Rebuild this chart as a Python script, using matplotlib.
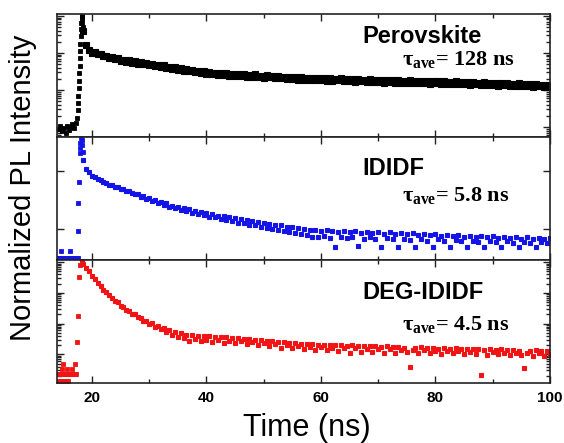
import numpy as np
import matplotlib
matplotlib.use("Agg")
import matplotlib.pyplot as plt

plt.rcParams['font.family'] = ['Liberation Sans', 'DejaVu Sans']
plt.rcParams['mathtext.fontset'] = 'custom'
plt.rcParams['mathtext.rm'] = 'Liberation Serif:bold'
plt.rcParams['mathtext.it'] = 'Liberation Serif:bold'
plt.rcParams['mathtext.bf'] = 'Liberation Serif:bold'

# time channels of the decay tail (ns)
t_tail = np.arange(18.5, 100.01, 0.5)

# ---- Perovskite (log10 of normalized PL) ----
perov_t0 = [14.2, 14.5, 14.8, 15.1, 15.4, 15.7, 16.0, 16.3, 16.6, 16.9, 17.2,
            17.45, 17.55, 17.6, 17.65, 17.7, 17.75, 17.8, 17.85, 17.9, 17.95,
            18.0, 18.05, 18.1, 18.15, 18.2, 18.25, 18.3, 18.35, 18.4]
perov_y0 = [-3.05, -2.98, -3.10, -3.02, -3.15, -2.97, -3.08, -3.00, -2.93, -3.04, -2.88,
            -2.75, -2.55, -2.35, -2.15, -1.95, -1.75, -1.55, -1.35, -1.15, -0.95,
            -0.75, -0.55, -0.35, -0.18, -0.02, 0.00, -0.08, -0.20, -0.30]
perov_tail = [
    -0.42, -0.80, -0.91, -0.99, -0.98, -1.04, -1.03, -1.09, -1.08, -1.14,
    -1.12, -1.17, -1.15, -1.21, -1.19, -1.24, -1.20, -1.26, -1.23, -1.29,
    -1.25, -1.31, -1.27, -1.33, -1.29, -1.36, -1.32, -1.38, -1.34, -1.41,
    -1.37, -1.44, -1.39, -1.46, -1.42, -1.48, -1.44, -1.50, -1.46, -1.52,
    -1.48, -1.55, -1.50, -1.56, -1.51, -1.57, -1.53, -1.59, -1.54, -1.60,
    -1.55, -1.61, -1.57, -1.62, -1.56, -1.63, -1.58, -1.64, -1.59, -1.65,
    -1.58, -1.66, -1.61, -1.67, -1.60, -1.66, -1.62, -1.68, -1.63, -1.69,
    -1.64, -1.70, -1.64, -1.71, -1.65, -1.72, -1.66, -1.72, -1.67, -1.74,
    -1.67, -1.73, -1.68, -1.74, -1.69, -1.75, -1.68, -1.76, -1.70, -1.74,
    -1.69, -1.77, -1.71, -1.76, -1.70, -1.78, -1.71, -1.77, -1.72, -1.78,
    -1.71, -1.79, -1.73, -1.78, -1.72, -1.80, -1.73, -1.79, -1.74, -1.80,
    -1.73, -1.81, -1.75, -1.80, -1.74, -1.82, -1.75, -1.81, -1.76, -1.82,
    -1.75, -1.83, -1.77, -1.82, -1.76, -1.84, -1.77, -1.83, -1.78, -1.84,
    -1.77, -1.85, -1.79, -1.84, -1.78, -1.86, -1.79, -1.85, -1.80, -1.86,
    -1.79, -1.87, -1.81, -1.86, -1.80, -1.88, -1.82, -1.87, -1.81, -1.89,
    -1.83, -1.88, -1.82, -1.90, -1.84, -1.89, -1.83, -1.91, -1.85, -1.90,
    -1.86, -1.93, -1.87, -1.92]

# ---- IDIDF ----
ididf_t0 = [14.0, 14.2, 14.4, 14.6, 14.8, 15.0, 15.2, 15.4, 15.6, 15.8, 16.0,
            16.2, 16.4, 16.6, 16.8, 17.0, 17.2, 17.4, 17.6, 14.6, 16.2,
            17.6, 17.65, 17.7, 17.9, 17.95, 18.0, 18.1, 18.2, 18.3, 18.4]
ididf_y0 = [-4.0, -4.0, -4.0, -4.0, -4.0, -4.0, -4.0, -4.0, -4.0, -4.0, -4.0,
            -4.0, -4.0, -4.0, -4.0, -4.0, -4.0, -4.0, -4.0, -3.76, -3.76,
            -3.07, -2.10, -1.38, -0.38, -0.20, -0.05, 0.12, 0.08, -0.12, -0.35]
ididf_tail = [
    -0.62, -0.95, -1.04, -1.17, -1.21, -1.29, -1.31, -1.39, -1.40, -1.47,
    -1.48, -1.55, -1.54, -1.62, -1.63, -1.70, -1.69, -1.77, -1.78, -1.80,
    -1.89, -1.87, -1.95, -1.94, -2.03, -2.00, -2.09, -2.07, -2.16, -2.12,
    -2.24, -2.20, -2.29, -2.24, -2.35, -2.29, -2.38, -2.32, -2.44, -2.37,
    -2.50, -2.41, -2.53, -2.46, -2.58, -2.49, -2.60, -2.54, -2.66, -2.56,
    -2.70, -2.59, -2.73, -2.62, -2.78, -2.66, -2.81, -2.70, -2.86, -2.72,
    -2.88, -2.76, -2.93, -2.79, -2.95, -2.82, -3.01, -2.85, -3.05, -2.88,
    -3.08, -2.92, -3.12, -2.94, -3.15, -2.97, -3.19, -3.00, -3.22, -3.02,
    -3.26, -3.05, -3.28, -3.07, -3.25, -3.04, -3.30, -3.08, -3.62, -3.10,
    -3.27, -3.06, -3.32, -3.12, -3.29, -3.08, -3.60, -3.14, -3.33, -3.10,
    -3.28, -3.15, -3.35, -3.11, -3.62, -3.16, -3.30, -3.12, -3.36, -3.18,
    -3.62, -3.14, -3.33, -3.19, -3.38, -3.15, -3.62, -3.21, -3.34, -3.17,
    -3.40, -3.22, -3.62, -3.18, -3.36, -3.24, -3.41, -3.20, -3.62, -3.25,
    -3.38, -3.21, -3.43, -3.27, -3.62, -3.23, -3.40, -3.28, -3.44, -3.24,
    -3.62, -3.29, -3.41, -3.25, -3.46, -3.31, -3.62, -3.27, -3.43, -3.32,
    -3.47, -3.28, -3.62, -3.33, -3.44, -3.29, -3.48, -3.35, -3.62, -3.30,
    -3.45, -3.36, -3.50, -3.32]

# ---- DEG-IDIDF ----
deg_t0 = [14.0, 14.2, 14.4, 14.6, 14.8, 15.0, 15.2, 15.4, 15.6, 15.8, 16.0,
          16.2, 16.4, 16.6, 16.8, 17.0, 17.2, 14.2, 14.6, 15.0, 15.4, 15.8,
          15.0, 17.0, 14.7, 15.6, 16.5,
          17.4, 17.6, 17.8, 18.0, 18.2, 18.3]
deg_y0 = [-3.65, -3.65, -3.65, -3.65, -3.65, -3.65, -3.65, -3.65, -3.65, -3.65, -3.65,
          -3.65, -3.65, -3.65, -3.65, -3.65, -3.65, -3.88, -3.88, -3.88, -3.88, -3.88,
          -3.30, -3.30, -3.49, -3.49, -3.49,
          -2.60, -1.74, -0.49, -0.08, 0.02, 0.00]
deg_tail = [
    -0.06, -0.20, -0.30, -0.45, -0.55, -0.68, -0.77, -0.89, -0.97, -1.08,
    -1.15, -1.25, -1.31, -1.41, -1.46, -1.55, -1.58, -1.67, -1.70, -1.79,
    -1.80, -1.91, -1.92, -2.01, -1.99, -2.10, -2.07, -2.19, -2.15, -2.27,
    -2.22, -2.36, -2.28, -2.42, -2.31, -2.47, -2.36, -2.55, -2.38, -2.50,
    -2.40, -2.58, -2.39, -2.52, -2.41, -2.60, -2.42, -2.54, -2.44, -2.62,
    -2.45, -2.55, -2.47, -2.64, -2.48, -2.58, -2.50, -2.66, -2.49, -2.60,
    -2.52, -2.70, -2.53, -2.63, -2.55, -2.72, -2.57, -2.66, -2.59, -2.78,
    -2.60, -2.70, -2.62, -2.80, -2.64, -2.72, -2.66, -2.84, -2.65, -2.75,
    -2.67, -2.86, -2.68, -2.76, -2.69, -2.87, -2.70, -2.78, -2.68, -2.90,
    -2.71, -2.79, -2.72, -2.95, -2.70, -2.80, -2.73, -2.91, -2.72, -2.81,
    -2.74, -2.93, -2.73, -2.82, -2.76, -2.94, -2.74, -2.84, -2.77, -2.96,
    -2.75, -2.85, -2.78, -2.92, -3.40, -2.86, -2.79, -2.97, -2.77, -2.87,
    -2.80, -2.95, -2.78, -2.88, -2.81, -2.99, -2.79, -2.89, -2.82, -2.96,
    -2.80, -2.90, -2.83, -3.00, -2.81, -2.91, -2.84, -2.98, -2.82, -3.67,
    -2.85, -3.01, -2.83, -2.93, -2.86, -2.99, -2.84, -2.94, -2.87, -3.03,
    -2.85, -2.95, -2.88, -3.02, -3.44, -2.96, -2.89, -3.04, -2.87, -2.97,
    -2.90, -3.05, -2.88, -2.98]

names = ["Perovskite", "IDIDF", "DEG-IDIDF"]
taus = ["128", "5.8", "4.5"]
colors = ["#000000", "#1414e6", "#f01414"]
msizes = [3.7, 2.7, 2.7]
ylims = [(-3.27, 0.05), (-4.07, 0.17), (-3.93, 0.07)]
name_y = [0.764, 0.691, 0.68]
tau_y = [0.585, 0.48, 0.434]

early_t = [perov_t0, ididf_t0, deg_t0]
early_y = [perov_y0, ididf_y0, deg_y0]
tails = [perov_tail, ididf_tail, deg_tail]

fig = plt.figure(figsize=(5.64, 4.43), dpi=100)
gs = fig.add_gridspec(3, 1, left=57/564, right=550/564, top=1-14/443,
                      bottom=1-383/443, hspace=0)
axes = [fig.add_subplot(gs[i]) for i in range(3)]

for i, ax in enumerate(axes):
    ax.plot(early_t[i], 10 ** np.array(early_y[i]), ls='none', marker='s',
            ms=2.4, mew=0.6, color=colors[i])
    ax.plot(t_tail, 10 ** np.array(tails[i]), ls='none', marker='s',
            ms=msizes[i], mew=0.8, color=colors[i])
    ax.set_yscale('log')
    ax.set_ylim(10 ** ylims[i][0], 10 ** ylims[i][1])
    ax.set_xlim(13.9, 100)
    ax.set_xticks([20, 40, 60, 80, 100])
    ax.set_xticks([30, 50, 70, 90], minor=True)
    ax.tick_params(which='both', direction='in', top=True, right=True,
                   labelleft=False, width=1.0, color='#222222')
    ax.tick_params(which='major', length=5)
    ax.tick_params(which='minor', length=3)
    for sp in ax.spines.values():
        sp.set_linewidth(1.2)
        sp.set_color('#222222')
    if i < 2:
        ax.tick_params(labelbottom=False)
    ax.text(0.619, name_y[i], names[i], transform=ax.transAxes, fontsize=17,
            fontweight='bold', ha='left', va='baseline')
    ax.text(0.70, tau_y[i], r'$\tau_{\rm ave}$= ' + taus[i] + ' ns',
            transform=ax.transAxes, fontsize=16, fontweight='bold',
            family='Liberation Serif', ha='left', va='baseline')

for lab in axes[2].get_xticklabels():
    lab.set_fontweight('bold')
    lab.set_fontsize(11)
axes[2].tick_params(axis='x', pad=6)

fig.text(23/564, 1-188/443, "Normalized PL Intensity", rotation=90,
         fontsize=21, ha='center', va='center')
fig.text(307/564, 1-428/443, "Time (ns)", fontsize=22, ha='center', va='center')

fig.savefig("out.png", dpi=100)
